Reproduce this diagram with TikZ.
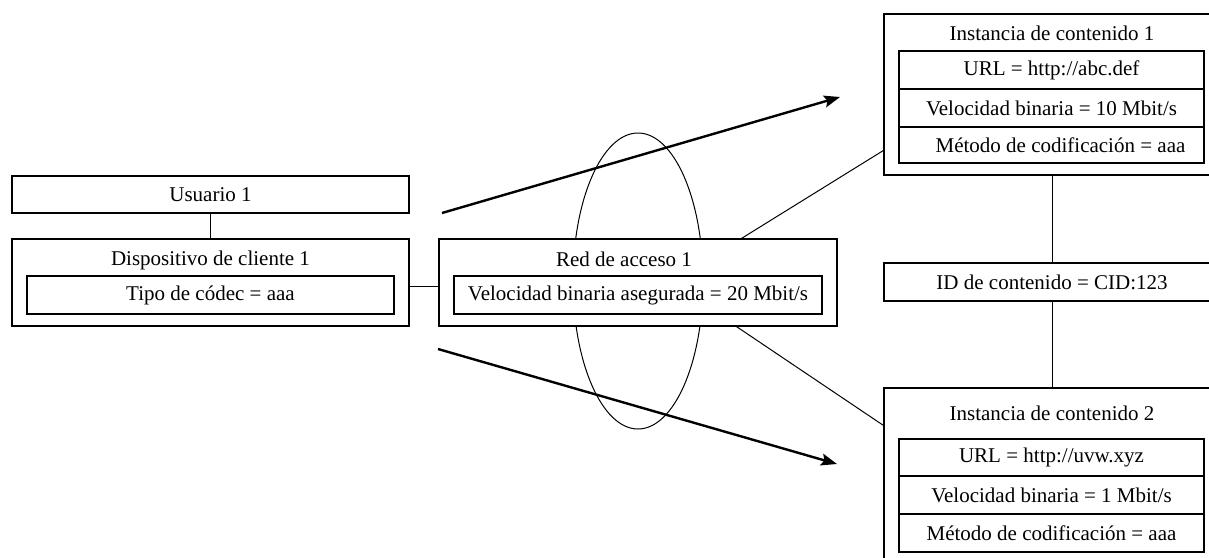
\documentclass[tikz,border=0pt]{standalone}
\usepackage{fontspec}
\setmainfont{Liberation Serif}
\usetikzlibrary{arrows.meta,calc}
\begin{document}
\begin{tikzpicture}[x=1pt,y=-1pt,
  font=\fontsize{21}{25}\selectfont,
  box/.style={draw, line width=1.1pt, fill=white, inner sep=0pt},
  lbl/.style={inner sep=0pt},
  thin/.style={line width=1pt},
  flow/.style={line width=2.4pt, -{Stealth[length=16pt,width=12pt,inset=3pt]}}]
\useasboundingbox (0,0) rectangle (1209,557);
\clip (0,0) rectangle (1209,557);

% ellipse behind access network
\draw[thin] (638,281) ellipse [x radius=65, y radius=148];

% flow arrows
\coordinate (a1s) at (442,213);
\coordinate (a1e) at (840,97);
\coordinate (a2s) at (438,349);
\coordinate (a2e) at (837,464);
\draw[flow] (a1s) -- (a1e);
\draw[flow] (a2s) -- (a2e);

% left side
\node[box, minimum width=397pt, minimum height=37pt] (user) at (210.5,194.5) {Usuario 1};
\node[box, minimum width=397pt, minimum height=87pt] (dev) at (210.5,282.5) {};
\node[lbl] (devt) at (210.5,260) {Dispositivo de cliente 1};
\node[box, minimum width=367pt, minimum height=38pt] (codec) at (210.5,295) {Tipo de códec = aaa};

% access network
\node[box, minimum width=398pt, minimum height=87pt] (red) at (638,282.5) {};
\node[lbl] (redt) at (624,259) {Red de acceso 1};
\node[box, minimum width=368pt, minimum height=38pt] (rate) at (638,295) {Velocidad binaria asegurada = 20 Mbit/s};

% content instance 1
\node[box, minimum width=336pt, minimum height=161pt] (ci1) at (1052,94.5) {};
\node[lbl] (ci1t) at (1052,33) {Instancia de contenido 1};
\node[box, minimum width=305pt, minimum height=38pt] (u1) at (1051.5,70) {URL = http://abc.def};
\node[box, minimum width=305pt, minimum height=38pt] (v1) at (1051.5,108) {Velocidad binaria = 10 Mbit/s};
\node[box, minimum width=305pt, minimum height=36pt] (m1) at (1051.5,145) {\hspace*{18pt}Método de codificación = aaa};

% content id
\node[box, minimum width=336pt, minimum height=38pt] (cid) at (1052,282) {ID de contenido = CID:123};

% content instance 2
\node[box, minimum width=336pt, minimum height=182pt] (ci2) at (1052,479) {};
\node[lbl] (ci2t) at (1052,413) {Instancia de contenido 2};
\node[box, minimum width=305pt, minimum height=37pt] (u2) at (1051.5,457.5) {URL = http://uvw.xyz};
\node[box, minimum width=305pt, minimum height=38pt] (v2) at (1051.5,495) {Velocidad binaria = 1 Mbit/s};
\node[box, minimum width=305pt, minimum height=38pt] (m2) at (1051.5,533) {Método de codificación = aaa};

% connectors
\draw[thin] (user.south) -- (dev.north);
\draw[thin] ($(dev.east)+(0,4)$) -- ($(red.west)+(0,4)$);
\draw[thin] (ci1.south) -- (cid.north);
\draw[thin] (cid.south) -- (ci2.north);
\coordinate (r1) at ($(red.north west)+(303,0)$);
\coordinate (c1) at ($(ci1.north west)+(0,137)$);
\coordinate (r2) at ($(red.south west)+(298,0)$);
\coordinate (c2) at ($(ci2.north west)+(0,38)$);
\draw[thin] (r1) -- (c1);
\draw[thin] (r2) -- (c2);
\end{tikzpicture}
\end{document}
